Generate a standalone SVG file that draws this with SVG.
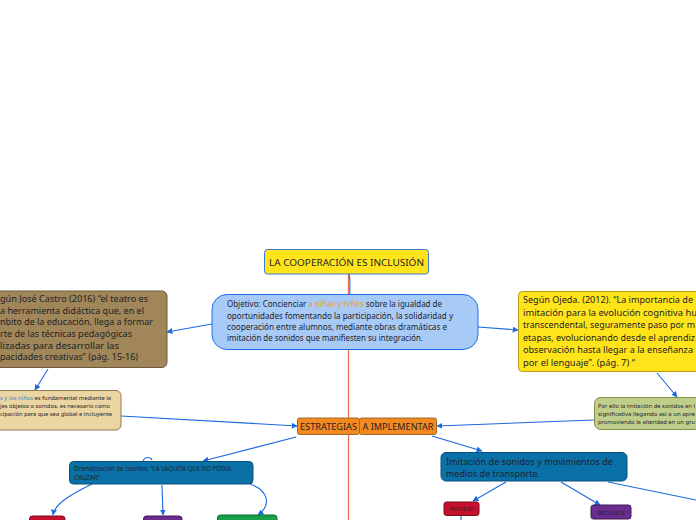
<svg xmlns="http://www.w3.org/2000/svg" width="696" height="520" viewBox="0 0 696 520">
<style>
text{font-family:"Noto Sans","Open Sans","DejaVu Sans",sans-serif;fill:#1f2328}
.c{fill:none;stroke:#1b6ae0;stroke-width:1.1}
.box{stroke-width:1}
</style>
<defs>
<marker id="ah" viewBox="0 0 10 10" refX="9" refY="5" markerWidth="6" markerHeight="6" orient="auto" markerUnits="userSpaceOnUse">
<path d="M0,0 L10,5 L0,10 z" fill="#1b6ae0"/>
</marker>
</defs>
<rect width="696" height="520" fill="#ffffff"/>
<g id="spine">
<line x1="348.5" y1="274" x2="348.5" y2="520" stroke="#ee7052" stroke-width="1.3"/>
</g>
<g id="connectors">
<path class="c" d="M349,274 C351,282 349,288 350,294"/>
<path class="c" d="M212,324 L167,332" marker-end="url(#ah)"/>
<path class="c" d="M478,327 L518,330" marker-end="url(#ah)"/>
<path class="c" d="M48,369 L35,390" marker-end="url(#ah)"/>
<path class="c" d="M657,373 L677,397" marker-end="url(#ah)"/>
<path class="c" d="M121,416 L297,426" marker-end="url(#ah)"/>
<path class="c" d="M594,420 L437,426" marker-end="url(#ah)"/>
<path class="c" d="M296,437 L203,461" marker-end="url(#ah)"/>
<path class="c" d="M432,436 L482,451" marker-end="url(#ah)"/>
<path class="c" d="M143,461 C145,456 151,457 152,460"/>
<path class="c" d="M92,484 C72,494 55,503 53,515" marker-end="url(#ah)"/>
<path class="c" d="M162,485 L163,515" marker-end="url(#ah)"/>
<path class="c" d="M250,484 C268,490 272,505 258,515" marker-end="url(#ah)"/>
<path class="c" d="M506,482 L473,501" marker-end="url(#ah)"/>
<path class="c" d="M561,482 L600,505" marker-end="url(#ah)"/>
<path class="c" d="M608,482 L696,500"/>
<path class="c" d="M461,516 L461,520"/>
</g>
<g id="title">
<rect class="box" x="264.5" y="249.5" width="164" height="24.5" rx="3" fill="#ffe41a" stroke="#3c7bd0"/>
<text x="346.5" y="266" font-size="9.6" text-anchor="middle" textLength="155" lengthAdjust="spacingAndGlyphs">LA COOPERACIÓN ES INCLUSIÓN</text>
</g>
<g id="objetivo">
<rect class="box" x="212" y="294.5" width="266" height="55" rx="15" fill="#a8caf7" stroke="#1e6fe6" stroke-width="1.2"/>
<text font-size="8.2"><tspan x="227" y="307" textLength="215" lengthAdjust="spacingAndGlyphs">Objetivo: Concienciar <tspan fill="#f0a020">a niñas y  niños</tspan> sobre la igualdad de</tspan></text>
<text x="227" y="319" font-size="8.2" textLength="226" lengthAdjust="spacingAndGlyphs">oportunidades fomentando la participación, la solidaridad y</text>
<text x="227" y="330" font-size="8.2" textLength="220" lengthAdjust="spacingAndGlyphs">cooperación entre alumnos, mediante obras dramáticas e</text>
<text x="227" y="341" font-size="8.2" textLength="196" lengthAdjust="spacingAndGlyphs">imitación de sonidos que manifiesten su integración.</text>
</g>
<g id="castro">
<rect class="box" x="-10" y="291" width="177" height="76.5" rx="5" fill="#a08658" stroke="#6d5a3a"/>
<text x="0" y="302" font-size="9.6" textLength="148" lengthAdjust="spacingAndGlyphs">gún José Castro (2016) “el teatro es</text>
<text x="0" y="313.5" font-size="9.6" textLength="144" lengthAdjust="spacingAndGlyphs">a herramienta didáctica que, en el</text>
<text x="0" y="325" font-size="9.6" textLength="153" lengthAdjust="spacingAndGlyphs">nbito de la educación, llega a formar</text>
<text x="0" y="337" font-size="9.6" textLength="132" lengthAdjust="spacingAndGlyphs">rte de las técnicas pedagógicas</text>
<text x="0" y="348.5" font-size="9.6" textLength="119" lengthAdjust="spacingAndGlyphs">lizadas para desarrollar las</text>
<text x="0" y="360" font-size="9.6" textLength="138" lengthAdjust="spacingAndGlyphs">pacidades creativas” (pág. 15-16)</text>
</g>
<g id="ninos">
<rect class="box" x="-10" y="390.5" width="131" height="39.5" rx="5" fill="#ebd5a2" stroke="#8e7a52"/>
<text x="0" y="400" font-size="6" textLength="111" lengthAdjust="spacingAndGlyphs"><tspan fill="#2f8fcb">s y los niños</tspan> es fundamental mediante la</text>
<text x="0" y="408" font-size="6" textLength="110" lengthAdjust="spacingAndGlyphs">jes objetos o sonidos, es necesario como</text>
<text x="0" y="416" font-size="6" textLength="112" lengthAdjust="spacingAndGlyphs">cipación para que sea global e incluyente</text>
</g>
<g id="ojeda">
<rect class="box" x="518.5" y="291.5" width="190" height="80" rx="4" fill="#ffe41a" stroke="#b39a1c"/>
<text x="523" y="303" font-size="9" textLength="170" lengthAdjust="spacingAndGlyphs">Según Ojeda. (2012). “La importancia de</text>
<text x="523" y="315.5" font-size="9" textLength="174" lengthAdjust="spacingAndGlyphs">imitación para la evolución cognitiva hu</text>
<text x="523" y="328" font-size="9" textLength="172" lengthAdjust="spacingAndGlyphs">transcendental, seguramente paso por m</text>
<text x="523" y="340.5" font-size="9" textLength="172" lengthAdjust="spacingAndGlyphs">etapas, evolucionando desde el aprendiz</text>
<text x="523" y="353" font-size="9" textLength="170" lengthAdjust="spacingAndGlyphs">observación hasta llegar a la enseñanza</text>
<text x="523" y="365.5" font-size="9" textLength="112" lengthAdjust="spacingAndGlyphs">por el lenguaje”. (pág. 7) “</text>
</g>
<g id="imitacion-sig">
<rect class="box" x="594.5" y="397.5" width="120" height="32" rx="6" fill="#bfcf8b" stroke="#7f9146"/>
<text x="598" y="408" font-size="6" textLength="97" lengthAdjust="spacingAndGlyphs">Por ello la imitación de sonidos en l</text>
<text x="598" y="416" font-size="6" textLength="97" lengthAdjust="spacingAndGlyphs">significativa llegando así a un apre</text>
<text x="598" y="424" font-size="6" textLength="97" lengthAdjust="spacingAndGlyphs">promoviendo la alteridad en un gru</text>
</g>
<g id="estrategias">
<rect class="box" x="297.5" y="418" width="62" height="16.5" rx="2" fill="#f48a1f" stroke="#9e6a2a"/>
<text x="328.5" y="430" font-size="9.4" text-anchor="middle" textLength="57" lengthAdjust="spacingAndGlyphs">ESTRATEGIAS</text>
</g>
<g id="implementar">
<rect class="box" x="359.5" y="418" width="77" height="16.5" rx="2" fill="#f48a1f" stroke="#9e6a2a"/>
<text x="398" y="430" font-size="9.4" text-anchor="middle" textLength="71" lengthAdjust="spacingAndGlyphs">A IMPLEMENTAR</text>
</g>
<g id="dramatizacion">
<rect class="box" x="69.5" y="461.5" width="183.5" height="22.5" rx="4" fill="#0a70a8" stroke="#08507a"/>
<text x="74" y="471" font-size="6.2" textLength="157" lengthAdjust="spacingAndGlyphs">Dramatización de cuentos. “LA VAQUITA QUE NO PODIA</text>
<text x="74" y="479.5" font-size="6.2">CRUZAR”</text>
</g>
<g id="d-rojo">
<rect class="box" x="29.5" y="516" width="35.5" height="12" rx="3" fill="#c6102e" stroke="#7a0a1e"/>
</g>
<g id="d-morado">
<rect class="box" x="143.5" y="516" width="38.5" height="12" rx="3" fill="#6a2c8e" stroke="#3f1a55"/>
</g>
<g id="d-verde">
<rect class="box" x="217.5" y="515" width="59.5" height="12" rx="3" fill="#16a048" stroke="#0c6a2e"/>
</g>
<g id="imitacion">
<rect class="box" x="441" y="452.5" width="186" height="28.5" rx="5" fill="#0a70a8" stroke="#08507a"/>
<text x="446" y="464.5" font-size="9.6" textLength="167" lengthAdjust="spacingAndGlyphs">Imitación de sonidos y movimientos de</text>
<text x="446" y="477" font-size="9.6" textLength="94" lengthAdjust="spacingAndGlyphs">medios de transporte.</text>
</g>
<g id="proceso">
<rect class="box" x="444" y="502" width="35" height="13.5" rx="2.5" fill="#c6102e" stroke="#7a0a1e"/>
<text x="461.5" y="511" font-size="5.5" text-anchor="middle">PROCESO</text>
</g>
<g id="recursos">
<rect class="box" x="591" y="505" width="40" height="14" rx="2.5" fill="#6a2c8e" stroke="#3f1a55"/>
<text x="611" y="514.5" font-size="5.5" text-anchor="middle">RECURSOS</text>
</g>
</svg>
